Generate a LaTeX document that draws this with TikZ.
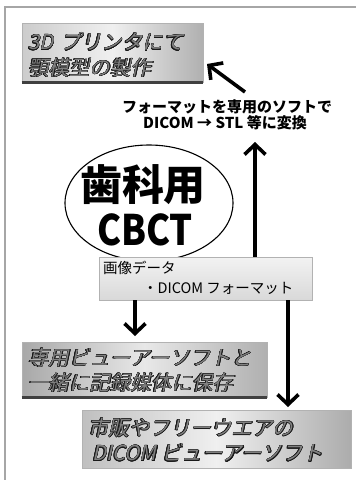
\documentclass[tikz,border=0pt]{standalone}
\usepackage{fontspec}
\setmainfont{Noto Sans CJK JP}
\newfontfamily\jp{Noto Sans CJK JP}
\newfontfamily\jpit[FakeSlant=0.22]{Noto Sans CJK JP}
\usepackage{contour}
\contourlength{0.4pt}
\contournumber{16}
\usetikzlibrary{arrows.meta,shapes.geometric}
\tikzset{
  frameline/.style={draw=gray!70, line width=1.5pt},
  metal/.style={draw=gray!60, line width=0.6pt, inner sep=0pt},
  shadowline/.style={draw=black!75, line width=2.5pt},
  boxtext/.style={anchor=west, inner sep=0pt, text=black!50,
    font=\jpit\fontsize{20.5}{22}\selectfont},
  notetext/.style={inner sep=0pt, font=\jp\bfseries\fontsize{15}{16}\selectfont},
  midtext/.style={anchor=west, inner sep=0pt, font=\jp\fontsize{14.5}{16}\selectfont},
  bigtext/.style={inner sep=0pt, font=\jp\bfseries\fontsize{42}{44}\selectfont},
  arr/.style={line width=3.6pt, -{Straight Barb[length=10pt,width=21pt]}},
}
\begin{document}
\begin{tikzpicture}[x=1pt,y=-1pt]
\useasboundingbox (0,0) rectangle (356,480);
% outer frame (left and top)
\coordinate (fbl) at (5,482);
\coordinate (ftl) at (5,7);
\coordinate (ftr) at (358,7);
\draw[frameline] (fbl) -- (ftl) -- (ftr);

% ellipse with CBCT
\node[draw=black, line width=1.1pt, ellipse, minimum width=168pt, minimum height=116pt] (cbct) at (149,203) {};
\node[bigtext] (t1) at (143,185) {歯科用};
\node[bigtext, xscale=0.86] (t2) at (145,230) {CBCT};

% middle grey box
\node[metal, top color=gray!10, bottom color=gray!30, minimum width=213pt, minimum height=43pt] (mid) at (205.5,278.5) {};
\node[midtext] (m1) at (103,268) {画像データ};
\node[midtext] (m2) at (143,288) {・DICOM フォーマット};

% box 1
\node[metal, left color=gray!40, right color=gray!62, middle color=gray!12, minimum width=181pt, minimum height=59pt] (b1) at (112.5,52.5) {};
\draw[shadowline] (b1.south west) -- (b1.south east);
\node[boxtext] (b1a) at (28,42) {\contour{black!90}{3D\,\,プリンタにて}};
\node[boxtext] (b1b) at (28,68) {\contour{black!90}{顎模型の製作}};

% note
\node[notetext] (n1) at (227,107) {フォーマットを専用のソフトで};
\node[notetext] (n2) at (225,123) {DICOM → STL 等に変換};

% box 2
\node[metal, left color=gray!68, right color=gray!62, middle color=gray!18, minimum width=245pt, minimum height=55pt] (b2) at (144.5,369.5) {};
\draw[shadowline] (b2.south west) -- (b2.south east);
\node[boxtext] (b2a) at (28,358) {\contour{black!90}{専用ビューアーソフトと}};
\node[boxtext] (b2b) at (28,383) {\contour{black!90}{一緒に記録媒体に保存}};

% box 3
\node[metal, left color=gray!50, right color=gray!65, middle color=gray!12, minimum width=269pt, minimum height=58pt] (b3) at (216.5,439) {};
\node[boxtext] (b3a) at (88,428) {\contour{black!90}{市販やフリーウエアの}};
\node[boxtext] (b3b) at (92,453) {\contour{black!90}{DICOM ビューアーソフト}};

% arrows
\coordinate (upx) at (255,142);
\draw[arr] (mid.north -| upx) -- (upx);
\coordinate (d1) at (135,336);
\draw[arr] (mid.south -| d1) -- (d1);
\coordinate (d2) at (288,407);
\draw[arr] (mid.south -| d2) -- (d2);
\coordinate (dtail) at (245,92);
\coordinate (dtip) at (207,64);
\draw[arr] (dtail) -- (dtip);
\end{tikzpicture}
\end{document}
